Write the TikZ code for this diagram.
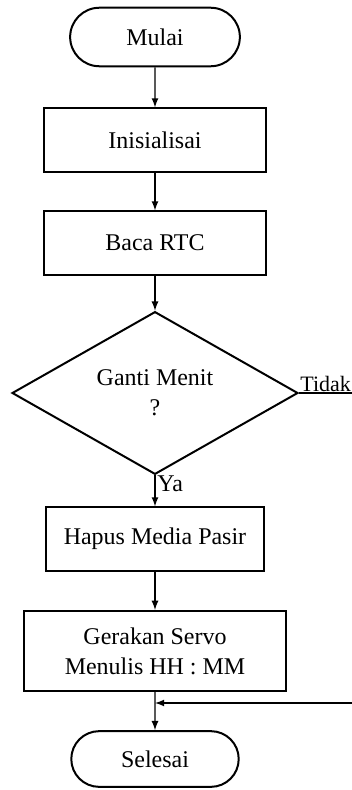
\documentclass[tikz,border=0pt]{standalone}
\usepackage{fontspec}
\setmainfont{Liberation Serif}
\usetikzlibrary{arrows,shapes.geometric,shapes.misc}

\begin{document}
\begin{tikzpicture}[x=0.0176cm,y=-0.0176cm,>=latex]
	\tikzstyle{every node} = [font=\fontsize{12}{15}\selectfont]
	\tikzstyle{terminal} = [draw,shape=rounded rectangle,line width=1pt,minimum width=3.22cm,minimum height=1.03cm]
	\tikzstyle{proses} = [draw,shape=rectangle,line width=1pt,minimum height=1.11cm,align=center]
	\tikzstyle{keputusan} = [draw,shape=diamond,line width=1pt,minimum width=5.03cm,minimum height=2.71cm,inner sep=0pt,align=center]
	\tikzstyle{alur} = [line width=0.6pt]
	\useasboundingbox (0,0) rectangle (351,790);

	\node[terminal] (Mulai) at (155,37) {Mulai};
	\node[proses,minimum width=3.89cm] (Init) at (155,140) {Inisialisai};
	\node[proses,minimum width=3.89cm] (Baca) at (155,243) {Baca RTC};
	\node[keputusan] (Cabang) at (155,393) {Ganti Menit\\?};
	\node[proses,minimum width=3.85cm] (Hapus) at (155,539) {Hapus Media Pasir};
	\node[proses,minimum width=4.61cm,minimum height=1.41cm] (Gerak) at (155,651) {Gerakan Servo\\Menulis HH : MM};
	\node[terminal,minimum width=3.18cm,minimum height=0.98cm] (Selesai) at (155,759) {Selesai};

	\node[right,inner sep=1pt] (Ya) at (155,484) {Ya};
	\node[above right,inner sep=0.5pt,font=\fontsize{11}{13}\selectfont] (Tidak) at (Cabang.east) {Tidak};

	\coordinate (Kanan) at (357,393);
	\coordinate (Balik) at (357,703);
	\coordinate (Temu) at (155,703);

	\draw[alur,->] (Mulai) -- (Init);
	\draw[alur,->] (Init) -- (Baca);
	\draw[alur,->] (Baca) -- (Cabang);
	\draw[alur,->] (Cabang) -- (Hapus);
	\draw[alur,->] (Hapus) -- (Gerak);
	\draw[alur,->] (Gerak) -- (Selesai);
	\draw[alur] (Cabang.east) -- (Kanan) -- (Balik);
	\draw[alur,->] (Balik) -- (Temu);
\end{tikzpicture}
\end{document}
